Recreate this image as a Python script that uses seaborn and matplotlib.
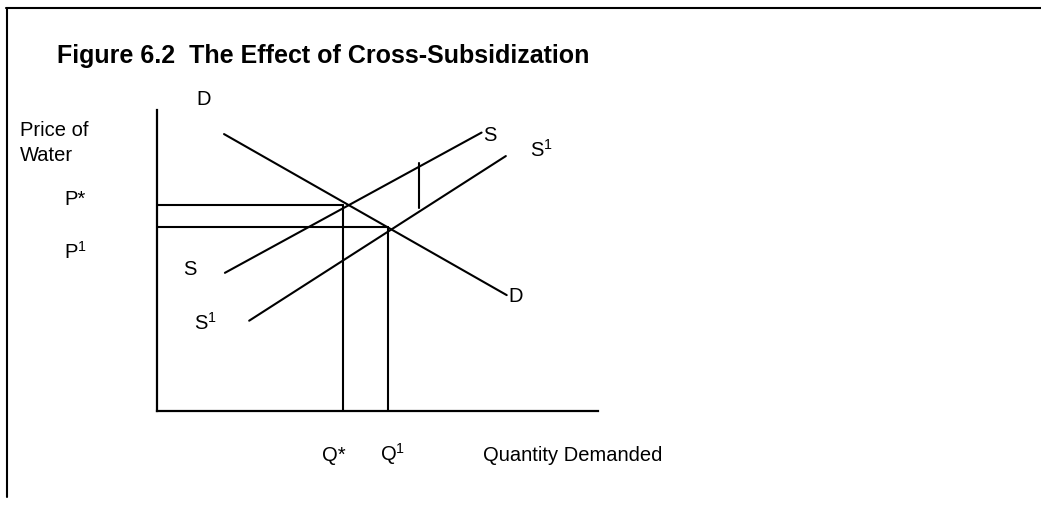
import matplotlib
matplotlib.use("Agg")
import matplotlib.pyplot as plt
from matplotlib.lines import Line2D
import pandas as pd
import seaborn as sns

# values (quantity and price on a 0-100 scale)
demand_q = [15.2, 79.3]
demand_p = [92.0, 38.5]
supply_q = [15.4, 73.6]
supply_p = [45.9, 92.5]
supply1_q = [20.9, 79.1]
supply1_p = [30.0, 84.7]

q_star, p_star = 42.1, 68.6
q_one, p_one = 52.4, 61.0

gap_q = [59.5, 59.5]
gap_p = [67.4, 82.3]

W, H = 1041, 508

sns.set_theme(style="white")
plt.rcParams["font.family"] = ["Liberation Sans", "DejaVu Sans"]
plt.rcParams["mathtext.fontset"] = "custom"
plt.rcParams["mathtext.rm"] = "Liberation Sans"

# long-form table of segments
segs = {
    "D": (demand_q, demand_p),
    "S": (supply_q, supply_p),
    "S1": (supply1_q, supply1_p),
    "gap": (gap_q, gap_p),
    "pstar_h": ([0, q_star], [p_star, p_star]),
    "pstar_v": ([q_star, q_star], [0, p_star]),
    "pone_h": ([0, q_one], [p_one, p_one]),
    "pone_v": ([q_one, q_one], [0, p_one]),
}
rows = []
for name, (qs, ps) in segs.items():
    for q, p in zip(qs, ps):
        rows.append({"seg": name, "q": q, "p": p})
df = pd.DataFrame(rows)

fig = plt.figure(figsize=(W / 100, H / 100), dpi=100)
ax = fig.add_axes([157 / W, (H - 411) / H, 441 / W, 301 / H])

sns.lineplot(data=df, x="q", y="p", units="seg", estimator=None, sort=False,
             color="black", lw=1.5, ax=ax)

ax.set_xlim(0, 100)
ax.set_ylim(0, 100)
ax.set_xticks([])
ax.set_yticks([])
ax.set_xlabel("")
ax.set_ylabel("")
sns.despine(ax=ax)
for s in ["left", "bottom"]:
    ax.spines[s].set_color("black")
    ax.spines[s].set_linewidth(1.6)


def put(txt, x, y, size=14.5, **kw):
    # x, y in pixels from top-left, y is baseline
    fig.text(x / W, 1 - y / H, txt, ha="left", va="baseline", fontsize=size,
             color="black", **kw)


put("Figure 6.2  The Effect of Cross-Subsidization", 57, 63, size=18, weight="bold")
put("Price of", 20, 136)
put("Water", 20, 161)
put("P*", 64, 205)
put(r"P$^{\mathregular{1}}$", 64, 259)
put("D", 196, 105)
put("S", 483, 141)
put(r"S$^{\mathregular{1}}$", 530, 157)
put("D", 508, 302)
put("S", 183, 275)
put(r"S$^{\mathregular{1}}$", 194, 330)
put("Q*", 322, 461)
put(r"Q$^{\mathregular{1}}$", 380, 461)
put("Quantity Demanded", 483, 461)

# page frame (top and left edges)
fig.add_artist(Line2D([6 / W, 1], [1 - 8 / H, 1 - 8 / H], transform=fig.transFigure,
                      color="black", lw=1.5))
fig.add_artist(Line2D([6.5 / W, 6.5 / W], [1 - 8 / H, 1 - 497 / H],
                      transform=fig.transFigure, color="black", lw=1.5))

fig.savefig("out.png", dpi=100)
